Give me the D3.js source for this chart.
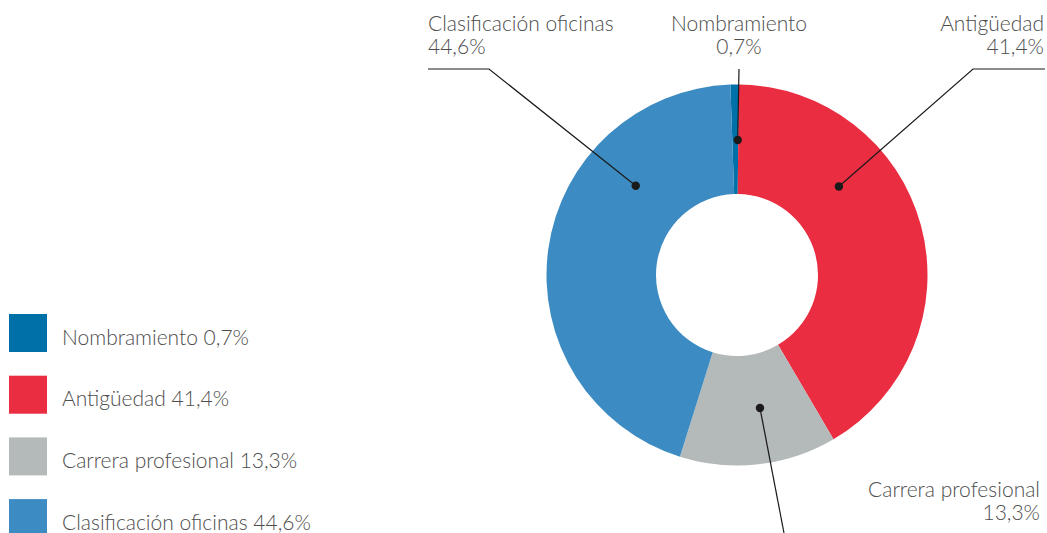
<!DOCTYPE html>
<html><head><meta charset="utf-8">
<script src="https://cdn.jsdelivr.net/npm/d3@7"></script>
<style>
body{margin:0;background:#fff}
svg{display:block}
text{font-family:Lato,"Open Sans",sans-serif;font-weight:300;fill:#4d4d4d}
</style>
</head><body>
<svg id="c" width="1047" height="533"></svg>
<script>
// ---- data ----
const categories = ["Nombramiento", "Antigüedad", "Carrera profesional", "Clasificación oficinas"];
const values = [0.7, 41.4, 13.3, 44.6];
const valueLabels = ["0,7%", "41,4%", "13,3%", "44,6%"];
const colors = ["#0070a9", "#eb2d42", "#b4b9b9", "#3c8bc2"];

// ---- layout ----
const W = 1047, H = 533;
const cx = 737, cy = 275, R = 190.5, r0 = 81, dotR = 135;
const startDeg = -2;
const fontSize = 21;
// callout anchors: angle on the ring, elbow and end points, label placement
const callouts = [
  {angle: 0.3,   pts: [[739, 69]],             label: {x: 739,  y: 31,  anchor: "middle"}},
  {angle: 49,    pts: [[973, 69], [1045, 69]], label: {x: 1044, y: 31,  anchor: "end"}},
  {angle: 170.2, pts: [[784, 533]],            label: {x: 1040, y: 497, anchor: "end"}},
  {angle: 311.4, pts: [[489, 69], [428, 69]],  label: {x: 428,  y: 31,  anchor: "start"}}
];

const svg = d3.select("#c");
const rad = d => d * Math.PI / 180;

const pie = d3.pie().sort(null).value(d => d)
  .startAngle(rad(startDeg)).endAngle(rad(startDeg) + 2 * Math.PI);
const arc = d3.arc().innerRadius(r0).outerRadius(R);
const arcs = pie(values);

const g = svg.append("g").attr("transform", `translate(${cx},${cy})`);
g.selectAll("path.slice").data(arcs).join("path")
  .attr("class", "slice")
  .attr("d", arc)
  .attr("fill", (d, i) => colors[i]);

// leader lines and dots
const line = d3.line();
callouts.forEach((c, i) => {
  const p = d3.pointRadial(rad(c.angle), dotR);
  const start = [cx + p[0], cy + p[1]];
  svg.append("path")
    .attr("d", line([start, ...c.pts]))
    .attr("fill", "none").attr("stroke", "#1a1a1a").attr("stroke-width", 1.2);
  svg.append("circle").attr("cx", start[0]).attr("cy", start[1]).attr("r", 4.2).attr("fill", "#1a1a1a");
  const t = svg.append("text")
    .attr("x", c.label.x).attr("y", c.label.y)
    .attr("text-anchor", c.label.anchor)
    .style("font-size", fontSize + "px");
  t.append("tspan").attr("x", c.label.x).text(categories[i]);
  t.append("tspan").attr("x", c.label.x).attr("dy", 23).text(valueLabels[i]);
});

// legend
const leg = svg.append("g");
const legItems = leg.selectAll("g").data(categories).join("g")
  .attr("transform", (d, i) => `translate(9,${314 + i * 61.7})`);
legItems.append("rect").attr("width", 38).attr("height", 38).attr("fill", (d, i) => colors[i]);
legItems.append("text").attr("x", 53).attr("y", 30.5)
  .style("font-size", fontSize + "px")
  .text((d, i) => `${d} ${valueLabels[i]}`);
</script>
</body></html>
